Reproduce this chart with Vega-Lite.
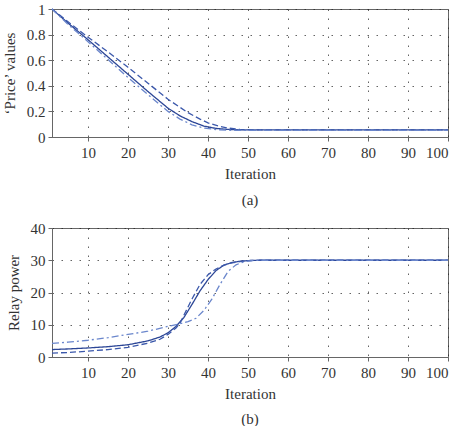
{
  "$schema": "https://vega.github.io/schema/vega-lite/v6.json",
  "padding": {"left": 1, "top": 1, "right": 5, "bottom": 0},
  "spacing": 11,
  "config": {
    "font": "Liberation Serif",
    "view": {"stroke": "#666", "strokeWidth": 1},
    "axis": {
      "labelFont": "Liberation Serif",
      "titleFont": "Liberation Serif",
      "labelFontSize": 15,
      "titleFontSize": 15,
      "titleFontWeight": "normal",
      "labelColor": "#333",
      "titleColor": "#333",
      "domainColor": "#666",
      "tickColor": "#666",
      "tickSize": 4,
      "gridColor": "#222",
      "gridDash": [1.5, 7.5],
      "gridOpacity": 0.7,
      "gridWidth": 1
    },
    "title": {"font": "Liberation Serif", "fontSize": 15, "fontWeight": "normal", "color": "#333"}
  },
  "datasets": {
    "a": [
      {"it": 1, "s": "solid", "v": 1.0}, {"it": 5, "s": "solid", "v": 0.89}, {"it": 10, "s": "solid", "v": 0.76},
      {"it": 15, "s": "solid", "v": 0.625}, {"it": 20, "s": "solid", "v": 0.49}, {"it": 25, "s": "solid", "v": 0.355},
      {"it": 30, "s": "solid", "v": 0.225}, {"it": 33, "s": "solid", "v": 0.165}, {"it": 36, "s": "solid", "v": 0.12},
      {"it": 39, "s": "solid", "v": 0.085}, {"it": 42, "s": "solid", "v": 0.067}, {"it": 45, "s": "solid", "v": 0.059},
      {"it": 48, "s": "solid", "v": 0.056}, {"it": 52, "s": "solid", "v": 0.055}, {"it": 100, "s": "solid", "v": 0.055},
      {"it": 1, "s": "dashed", "v": 1.0}, {"it": 5, "s": "dashed", "v": 0.9}, {"it": 10, "s": "dashed", "v": 0.78},
      {"it": 15, "s": "dashed", "v": 0.665}, {"it": 20, "s": "dashed", "v": 0.545}, {"it": 25, "s": "dashed", "v": 0.42},
      {"it": 30, "s": "dashed", "v": 0.295}, {"it": 35, "s": "dashed", "v": 0.19}, {"it": 38, "s": "dashed", "v": 0.14},
      {"it": 40, "s": "dashed", "v": 0.11}, {"it": 43, "s": "dashed", "v": 0.083}, {"it": 45, "s": "dashed", "v": 0.07},
      {"it": 48, "s": "dashed", "v": 0.059}, {"it": 52, "s": "dashed", "v": 0.055}, {"it": 100, "s": "dashed", "v": 0.055},
      {"it": 1, "s": "dashdot", "v": 1.0}, {"it": 5, "s": "dashdot", "v": 0.88}, {"it": 10, "s": "dashdot", "v": 0.745},
      {"it": 15, "s": "dashdot", "v": 0.605}, {"it": 20, "s": "dashdot", "v": 0.465}, {"it": 25, "s": "dashdot", "v": 0.33},
      {"it": 30, "s": "dashdot", "v": 0.2}, {"it": 33, "s": "dashdot", "v": 0.14}, {"it": 36, "s": "dashdot", "v": 0.095},
      {"it": 39, "s": "dashdot", "v": 0.07}, {"it": 42, "s": "dashdot", "v": 0.058}, {"it": 45, "s": "dashdot", "v": 0.053},
      {"it": 50, "s": "dashdot", "v": 0.052}, {"it": 100, "s": "dashdot", "v": 0.052}
    ],
    "b": [
      {"it": 1, "s": "solid", "v": 2.3}, {"it": 5, "s": "solid", "v": 2.5}, {"it": 10, "s": "solid", "v": 2.8},
      {"it": 15, "s": "solid", "v": 3.2}, {"it": 20, "s": "solid", "v": 3.8}, {"it": 25, "s": "solid", "v": 5.0},
      {"it": 28, "s": "solid", "v": 6.2}, {"it": 30, "s": "solid", "v": 7.5}, {"it": 32, "s": "solid", "v": 9.5},
      {"it": 34, "s": "solid", "v": 12.3}, {"it": 36, "s": "solid", "v": 16.3}, {"it": 38, "s": "solid", "v": 20.5},
      {"it": 40, "s": "solid", "v": 24}, {"it": 42, "s": "solid", "v": 26.8}, {"it": 44, "s": "solid", "v": 28.5},
      {"it": 46, "s": "solid", "v": 29.3}, {"it": 48, "s": "solid", "v": 29.7}, {"it": 50, "s": "solid", "v": 29.9},
      {"it": 53, "s": "solid", "v": 30}, {"it": 100, "s": "solid", "v": 30},
      {"it": 1, "s": "dashed", "v": 1.2}, {"it": 5, "s": "dashed", "v": 1.4}, {"it": 10, "s": "dashed", "v": 1.8},
      {"it": 15, "s": "dashed", "v": 2.3}, {"it": 20, "s": "dashed", "v": 3.0}, {"it": 25, "s": "dashed", "v": 4.3},
      {"it": 28, "s": "dashed", "v": 5.5}, {"it": 30, "s": "dashed", "v": 7}, {"it": 32, "s": "dashed", "v": 9},
      {"it": 33, "s": "dashed", "v": 10.5}, {"it": 34, "s": "dashed", "v": 13}, {"it": 36, "s": "dashed", "v": 18},
      {"it": 38, "s": "dashed", "v": 22.5}, {"it": 40, "s": "dashed", "v": 25.5}, {"it": 42, "s": "dashed", "v": 27.3},
      {"it": 44, "s": "dashed", "v": 28.5}, {"it": 46, "s": "dashed", "v": 29.2}, {"it": 48, "s": "dashed", "v": 29.6},
      {"it": 50, "s": "dashed", "v": 29.9}, {"it": 53, "s": "dashed", "v": 30}, {"it": 100, "s": "dashed", "v": 30},
      {"it": 1, "s": "dashdot", "v": 4.2}, {"it": 5, "s": "dashdot", "v": 4.6}, {"it": 10, "s": "dashdot", "v": 5.2},
      {"it": 15, "s": "dashdot", "v": 6}, {"it": 20, "s": "dashdot", "v": 7}, {"it": 25, "s": "dashdot", "v": 8},
      {"it": 30, "s": "dashdot", "v": 9.5}, {"it": 33, "s": "dashdot", "v": 10.3}, {"it": 35, "s": "dashdot", "v": 11},
      {"it": 37, "s": "dashdot", "v": 12}, {"it": 39, "s": "dashdot", "v": 14.5}, {"it": 41, "s": "dashdot", "v": 18},
      {"it": 43, "s": "dashdot", "v": 22.5}, {"it": 45, "s": "dashdot", "v": 26.5}, {"it": 47, "s": "dashdot", "v": 28.6},
      {"it": 49, "s": "dashdot", "v": 29.5}, {"it": 51, "s": "dashdot", "v": 29.9}, {"it": 54, "s": "dashdot", "v": 30},
      {"it": 100, "s": "dashdot", "v": 30}
    ]
  },
  "vconcat": [
    {
      "width": 396,
      "height": 128,
      "title": {"text": "(a)", "orient": "bottom", "offset": 12},
      "data": {"name": "a"},
      "mark": {"type": "line", "strokeWidth": 1.3},
      "encoding": {
        "x": {"field": "it", "type": "quantitative", "scale": {"domain": [1, 100], "nice": false, "zero": false},
              "axis": {"title": "Iteration", "values": [10, 20, 30, 40, 50, 60, 70, 80, 90, 100], "titlePadding": 6, "labelPadding": 4}},
        "y": {"field": "v", "type": "quantitative", "scale": {"domain": [0, 1], "nice": false},
              "axis": {"title": "‘Price’ values", "values": [0, 0.2, 0.4, 0.6, 0.8, 1], "format": "~g", "titlePadding": 9, "labelPadding": 3}},
        "color": {"field": "s", "type": "nominal", "legend": null,
                  "scale": {"domain": ["solid", "dashed", "dashdot"], "range": ["#2c4696", "#3b58ab", "#6a86cc"]}},
        "strokeDash": {"field": "s", "type": "nominal", "legend": null,
                  "scale": {"domain": ["solid", "dashed", "dashdot"], "range": [[1, 0], [6, 3], [7, 3, 2, 3]]}}
      }
    },
    {
      "width": 396,
      "height": 129,
      "title": {"text": "(b)", "orient": "bottom", "offset": 11},
      "data": {"name": "b"},
      "mark": {"type": "line", "strokeWidth": 1.3},
      "encoding": {
        "x": {"field": "it", "type": "quantitative", "scale": {"domain": [1, 100], "nice": false, "zero": false},
              "axis": {"title": "Iteration", "values": [10, 20, 30, 40, 50, 60, 70, 80, 90, 100], "titlePadding": 6, "labelPadding": 4}},
        "y": {"field": "v", "type": "quantitative", "scale": {"domain": [0, 40], "nice": false},
              "axis": {"title": "Relay power", "values": [0, 10, 20, 30, 40], "titlePadding": 9, "labelPadding": 3}},
        "color": {"field": "s", "type": "nominal", "legend": null,
                  "scale": {"domain": ["solid", "dashed", "dashdot"], "range": ["#2c4696", "#3b58ab", "#4f6cbd"]}},
        "strokeDash": {"field": "s", "type": "nominal", "legend": null,
                  "scale": {"domain": ["solid", "dashed", "dashdot"], "range": [[1, 0], [6, 3], [8, 3, 2, 3]]}}
      }
    }
  ]
}
